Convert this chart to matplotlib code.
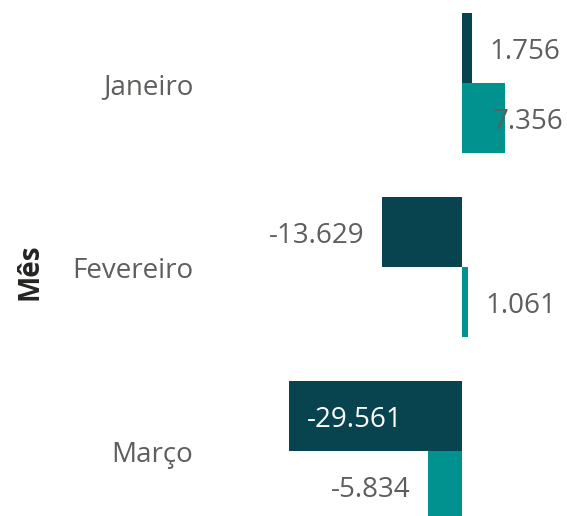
# grouped horizontal bars per month, two series, labelled values
import matplotlib.pyplot as plt
import numpy as np

meses = ["Janeiro", "Fevereiro", "Março"]
serie_a = [1.756, -13.629, -29.561]
serie_b = [7.356, 1.061, -5.834]

cor_a = "#08444F"
cor_b = "#01918F"
cinza = "#605E5C"

plt.rcParams["font.family"] = ["Open Sans", "DejaVu Sans"]

fig = plt.figure(figsize=(5.67, 5.16), dpi=100)
ax = fig.add_axes([200 / 567, 0, 367 / 567, 1])

y = np.arange(len(meses))
h = 0.38
ax.barh(y - h / 2, serie_a, height=h, color=cor_a)
ax.barh(y + h / 2, serie_b, height=h, color=cor_b)

ax.set_xlim(-44.76, 17.94)
ax.set_ylim(2.353, -0.451)

def fmt(v):
    return f"{v:.3f}"

fs = 20
gap = 3.0
for pos, vals in ((y - h / 2, serie_a), (y + h / 2, serie_b)):
    for yy, v in zip(pos, vals):
        if v >= 0:
            if v + gap + 12 > 17.94:
                ax.text(17.3, yy + 0.02, fmt(v), ha="right", va="center",
                        fontsize=fs, color=cinza)
            else:
                ax.text(v + gap, yy + 0.02, fmt(v), ha="left", va="center",
                        fontsize=fs, color=cinza)
        elif v < -25:
            ax.text(v + gap, yy + 0.02, fmt(v), ha="left", va="center",
                    fontsize=fs, color="white")
        else:
            ax.text(v - gap, yy + 0.02, fmt(v), ha="right", va="center",
                    fontsize=fs, color=cinza)

for yy, m in zip(y, meses):
    ax.text(-45.9, yy + 0.02, m, ha="right", va="center", fontsize=fs,
            color=cinza, clip_on=False)

fig.text(30 / 567, 1 - 272 / 516, "Mês", rotation=90, ha="center", va="center",
         fontsize=fs, fontweight="bold", color="#252423")

ax.axis("off")
fig.savefig("out.png")
